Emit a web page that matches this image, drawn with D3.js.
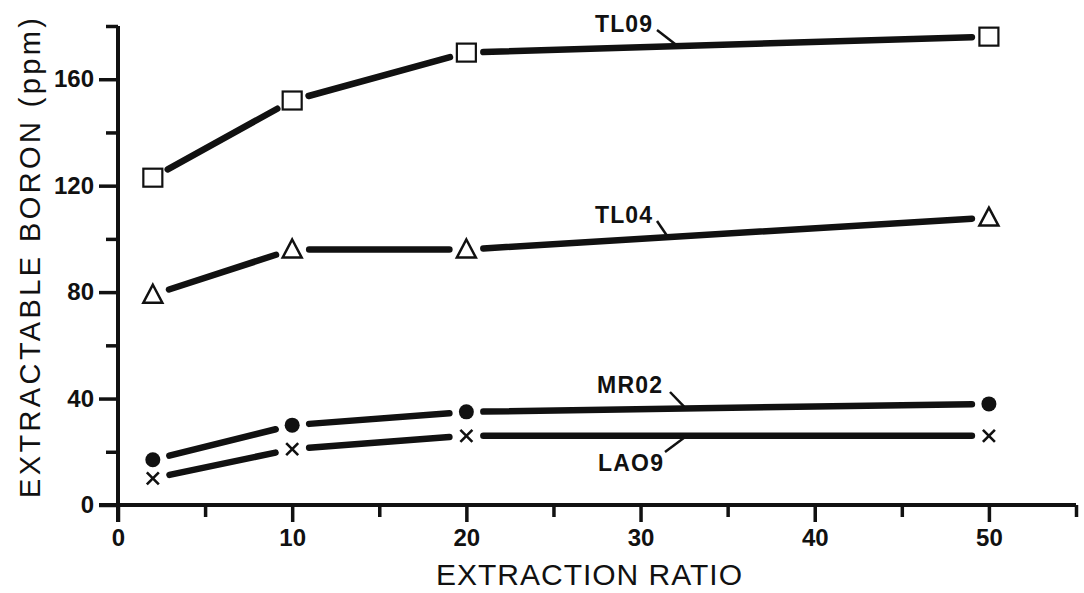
<!DOCTYPE html>
<html><head><meta charset="utf-8">
<script src="https://cdn.jsdelivr.net/npm/d3@7"></script>
<style>body{margin:0;background:#fff}svg{display:block}text{font-family:"Liberation Sans",Arial,sans-serif;fill:#111}</style>
</head><body><svg id="c" width="1084" height="593"></svg>
<script>
const ratios = [2, 10, 20, 50];
const TL09 = [123, 152, 170, 176];
const TL04 = [79, 96, 96, 108];
const MR02 = [17, 30, 35, 38];
const LA09 = [10, 21, 26, 26];
const xTicks = [0, 10, 20, 30, 40, 50];
const yTicks = [0, 40, 80, 120, 160];
const seriesNames = ["TL09", "TL04", "MR02", "LAO9"];
const markers = ["square", "triangle", "circle", "cross"];

const svg = d3.select("#c");
const x = d3.scaleLinear().domain([0, 55]).range([118, 1076]);
const y = d3.scaleLinear().domain([0, 180]).range([505, 26]);
const ink = "#111";

// axes
const xAxis = d3.axisBottom(x).tickValues(d3.range(0, 56, 5)).tickSize(17)
  .tickFormat(d => xTicks.includes(d) ? d : "");
const gx = svg.append("g").attr("transform", `translate(0,${y(0)})`).call(xAxis);
gx.select(".domain").style("stroke", ink).style("stroke-width", "4px").attr("d", `M${x(0) - 19},0H${x(55)}`);
gx.selectAll(".tick line").style("stroke", ink).style("stroke-width", "3.5px")
  .attr("y2", d => xTicks.includes(d) ? 17 : 12);
gx.selectAll(".tick text").attr("y", 24).style("font-size", "24px").style("font-weight", "bold").style("fill", ink);

const yAxis = d3.axisLeft(y).tickValues(d3.range(0, 181, 20)).tickSize(18)
  .tickFormat(d => yTicks.includes(d) ? d : "");
const gy = svg.append("g").attr("transform", `translate(${x(0)},0)`).call(yAxis);
gy.select(".domain").style("stroke", ink).style("stroke-width", "4px").attr("d", `M0,${y(0) + 17}V${y(180)}`);
gy.selectAll(".tick line").style("stroke", ink).style("stroke-width", "3.5px")
  .attr("x2", d => (yTicks.includes(d)) ? -19 : -12);
gy.selectAll(".tick text").attr("x", -24).style("font-size", "24px").style("font-weight", "bold").style("fill", ink);

// titles
svg.append("text").attr("x", 436).attr("y", 585)
  .attr("textLength", 306).attr("lengthAdjust", "spacing")
  .style("font-size", "30px").text("EXTRACTION RATIO");
svg.append("text").attr("transform", `translate(40,498) rotate(-90)`)
  .attr("textLength", 480).attr("lengthAdjust", "spacing")
  .style("font-size", "29px").text("EXTRACTABLE BORON (ppm)");

// series
const data = [TL09, TL04, MR02, LA09];
const gap = 17;
data.forEach((vals, si) => {
  const pts = ratios.map((r, i) => [x(r), y(vals[i])]);
  for (let i = 0; i < pts.length - 1; i++) {
    const [x0, y0] = pts[i], [x1, y1] = pts[i + 1];
    const L = Math.hypot(x1 - x0, y1 - y0), ux = (x1 - x0) / L, uy = (y1 - y0) / L;
    svg.append("line")
      .attr("x1", x0 + ux * gap).attr("y1", y0 + uy * gap)
      .attr("x2", x1 - ux * gap).attr("y2", y1 - uy * gap)
      .attr("stroke", ink).attr("stroke-width", 6.5).attr("stroke-linecap", "round");
  }
  const m = markers[si];
  pts.forEach(([px, py]) => {
    if (m === "square") svg.append("rect").attr("x", px - 9.5).attr("y", py - 9).attr("width", 19).attr("height", 18)
      .attr("fill", "#fff").attr("stroke", ink).attr("stroke-width", 2.2);
    else if (m === "triangle") svg.append("path").attr("d", `M${px},${py - 10}L${px + 9.5},${py + 8}L${px - 9.5},${py + 8}Z`)
      .attr("fill", "#fff").attr("stroke", ink).attr("stroke-width", 2.5);
    else if (m === "circle") svg.append("circle").attr("cx", px).attr("cy", py).attr("r", 7.5).attr("fill", ink);
    else svg.append("path").attr("d", `M${px - 6},${py - 6}L${px + 6},${py + 6}M${px + 6},${py - 6}L${px - 6},${py + 6}`)
      .attr("stroke", ink).attr("stroke-width", 2.6);
  });
});

// labels with leaders
const labels = [
  {name: seriesNames[0], tx: 595, ty: 32, lx1: 657, ly1: 30, xv: 32, vals: TL09, below: false},
  {name: seriesNames[1], tx: 595, ty: 223, lx1: 657, ly1: 221, xv: 31.5, vals: TL04, below: false},
  {name: seriesNames[2], tx: 597, ty: 393, lx1: 670, ly1: 392, xv: 32.5, vals: MR02, below: false},
  {name: seriesNames[3], tx: 598, ty: 471, lx1: 665, ly1: 452, xv: 32.5, vals: LA09, below: true}
];
labels.forEach(l => {
  const v = l.vals[2] + (l.vals[3] - l.vals[2]) * (l.xv - 20) / 30;
  svg.append("text").attr("x", l.tx).attr("y", l.ty)
    .attr("textLength", l.name === "TL09" || l.name === "TL04" ? 57 : 65).attr("lengthAdjust", "spacing")
    .style("font-size", "23px").style("font-weight", "bold").text(l.name);
  svg.append("line").attr("x1", l.lx1).attr("y1", l.ly1).attr("x2", x(l.xv)).attr("y2", y(v) + (l.below ? 2 : -2))
    .attr("stroke", ink).attr("stroke-width", 2.5);
});
</script></body></html>
